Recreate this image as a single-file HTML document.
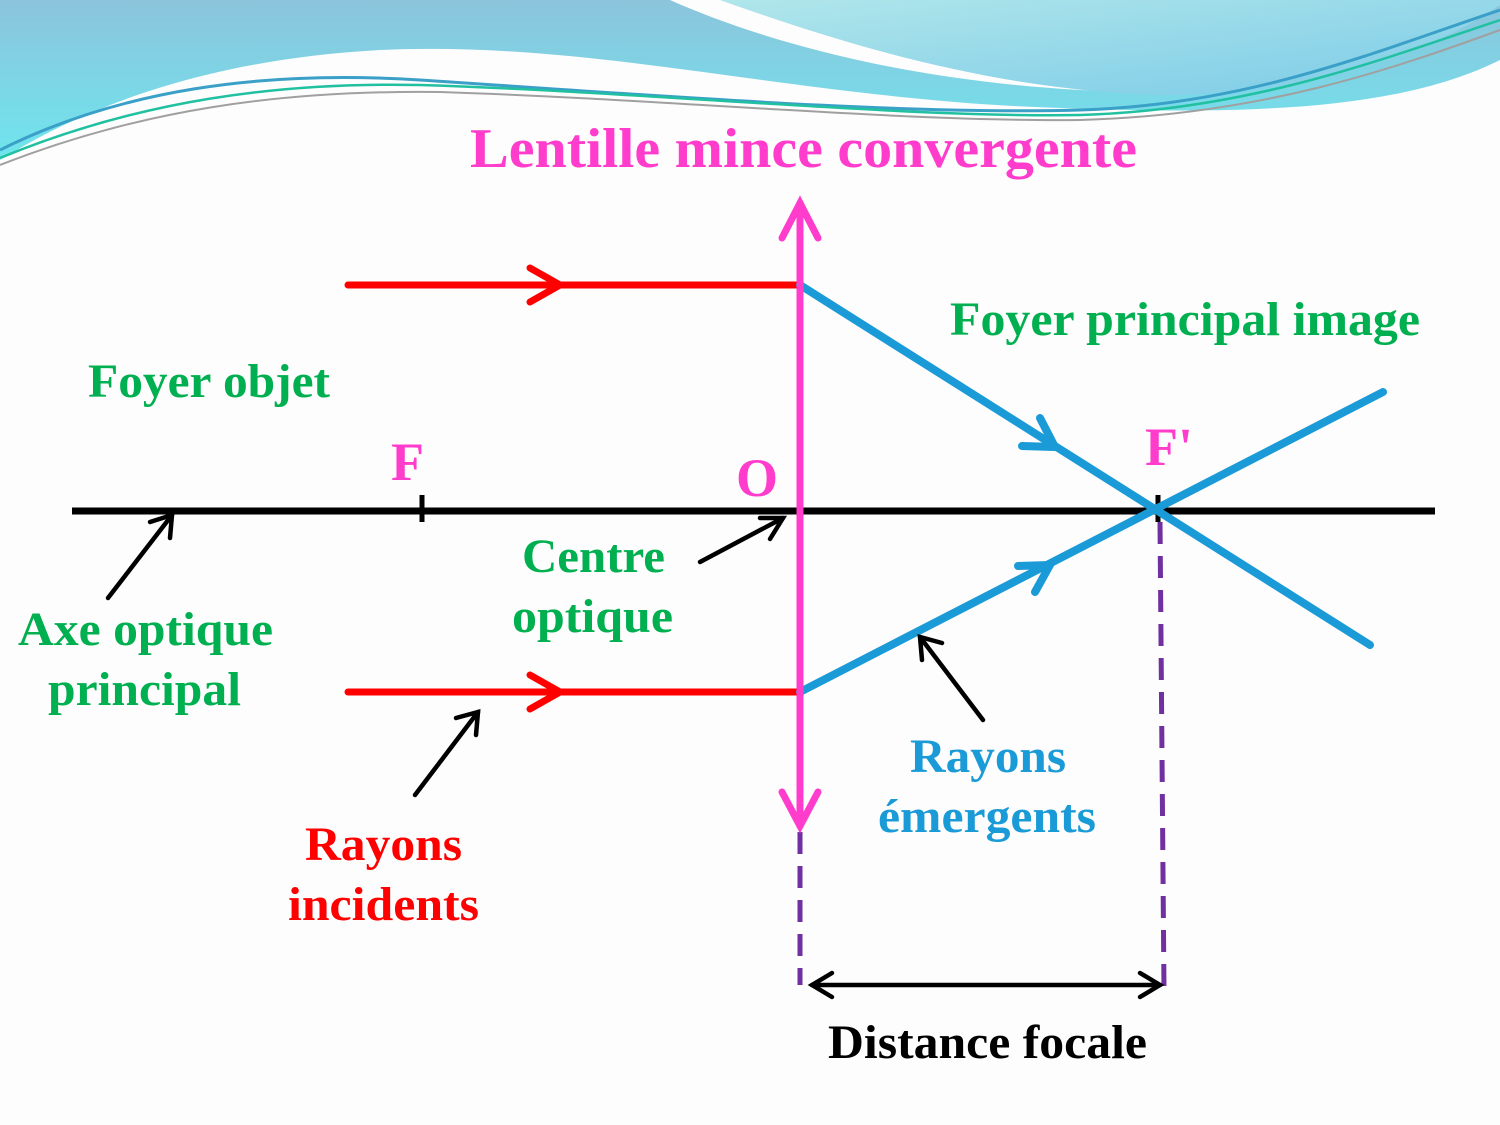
<!DOCTYPE html>
<html><head><meta charset="utf-8"><style>html,body{margin:0;padding:0;background:#fff}svg{display:block}text{font-family:"Liberation Serif",serif;font-weight:bold}</style></head>
<body>
<svg width="1500" height="1125" viewBox="0 0 1500 1125" xmlns="http://www.w3.org/2000/svg">
<defs>
<linearGradient id="g1" x1="0" y1="0" x2="0" y2="1"><stop offset="0" stop-color="#8cc4dc"/><stop offset="1" stop-color="#6ee6ee"/></linearGradient>
<linearGradient id="g2" x1="0" y1="0" x2="1" y2="1"><stop offset="0" stop-color="#b0e6ea"/><stop offset="1" stop-color="#7ccbe8"/></linearGradient>
</defs>
<rect width="1500" height="1125" fill="#fdfdfd"/>
<path d="M0,0 H670 C760,40 900,80 1080,90 C1200,95 1300,80 1500,5 V60 C1400,110 1250,115 1060,108 C800,100 600,40 380,50 C200,60 80,110 0,160 Z" fill="url(#g1)"/>
<path d="M720,0 H1500 V5 C1420,60 1300,95 1160,95 C1000,90 860,50 720,0 Z" fill="url(#g2)"/>
<path d="M0,150 C120,90 260,70 420,80 C650,95 900,115 1080,110 C1250,105 1380,50 1500,10" fill="none" stroke="#3aa0c8" stroke-width="3"/>
<path d="M0,158 C140,100 280,82 420,85 C650,92 900,118 1080,115 C1250,110 1380,60 1500,20" fill="none" stroke="#20c0a0" stroke-width="2.5"/>
<path d="M0,165 C140,110 280,90 440,92 C680,100 900,122 1080,120 C1260,115 1390,70 1500,30" fill="none" stroke="#a0a0a0" stroke-width="2"/>
<text x="470" y="167" font-size="56" fill="#ff3ccc" textLength="667" lengthAdjust="spacingAndGlyphs">Lentille mince convergente</text>

<line x1="72" y1="511" x2="1435" y2="511" stroke="#000" stroke-width="7"/>
<line x1="422" y1="495" x2="422" y2="522" stroke="#000" stroke-width="5"/>
<line x1="1158" y1="495" x2="1158" y2="522" stroke="#000" stroke-width="5"/>
<line x1="800" y1="832" x2="800" y2="985" stroke="#7030a0" stroke-width="5" stroke-dasharray="22,12"/>
<line x1="1160" y1="522" x2="1164" y2="990" stroke="#7030a0" stroke-width="5" stroke-dasharray="22,12"/>
<g stroke="#ff0000" stroke-width="7" fill="none" stroke-linecap="round">
<line x1="348" y1="285" x2="800" y2="285"/><polyline points="530,268 560,285 530,302"/>
<line x1="348" y1="692" x2="800" y2="692"/><polyline points="530,675 560,692 530,709"/>
</g>
<g stroke="#1a9bd7" stroke-width="8" fill="none" stroke-linecap="round">
<line x1="800" y1="285" x2="1370" y2="645"/>
<line x1="800" y1="692" x2="1383" y2="392"/>
<polyline points="1040,418 1055,447 1022,446"/>
<polyline points="1018,566 1050,565 1035,592"/>
</g>
<g stroke="#ff3ccc" stroke-width="7" fill="none" stroke-linecap="round">
<line x1="800" y1="203" x2="800" y2="826"/>
<polyline points="782,238 800,203 818,238"/>
<polyline points="782,792 800,826 818,792"/>
</g>
<g stroke="#000" stroke-width="4.5" fill="none" stroke-linecap="round">
<line x1="108" y1="598" x2="172" y2="515"/><polyline points="150,522 172,515 170,538"/>
<line x1="700" y1="562" x2="783" y2="518"/><polyline points="760,518 783,518 770,539"/>
<line x1="415" y1="795" x2="478" y2="712"/><polyline points="456,718 478,712 476,735"/>
<line x1="983" y1="720" x2="920" y2="637"/><polyline points="922,660 920,637 942,643"/>
<line x1="812" y1="985" x2="1160" y2="985"/><polyline points="832,973 812,985 832,997"/><polyline points="1140,973 1160,985 1140,997"/>
</g>
<g font-size="48" lengthAdjust="spacingAndGlyphs">
<text x="88" y="397" fill="#00b050" textLength="242" lengthAdjust="spacingAndGlyphs">Foyer objet</text>
<text x="950" y="335" fill="#00b050" textLength="470" lengthAdjust="spacingAndGlyphs">Foyer principal image</text>
<text x="522" y="572" fill="#00b050" textLength="143" lengthAdjust="spacingAndGlyphs">Centre</text>
<text x="512" y="632" fill="#00b050" textLength="161" lengthAdjust="spacingAndGlyphs">optique</text>
<text x="18" y="645" fill="#00b050" textLength="255" lengthAdjust="spacingAndGlyphs">Axe optique</text>
<text x="48" y="705" fill="#00b050" textLength="193" lengthAdjust="spacingAndGlyphs">principal</text>
<text x="305" y="860" fill="#ff0000" textLength="157" lengthAdjust="spacingAndGlyphs">Rayons</text>
<text x="288" y="920" fill="#ff0000" textLength="191" lengthAdjust="spacingAndGlyphs">incidents</text>
<text x="910" y="772" fill="#1a9bd7" textLength="156" lengthAdjust="spacingAndGlyphs">Rayons</text>
<text x="878" y="832" fill="#1a9bd7" textLength="218" lengthAdjust="spacingAndGlyphs">émergents</text>
<text x="828" y="1058" fill="#000" textLength="319" lengthAdjust="spacingAndGlyphs">Distance focale</text>
</g>
<g font-size="54" fill="#ff3ccc">
<text x="391" y="480">F</text>
<text x="736" y="496">O</text>
<text x="1145" y="465">F'</text>
</g>
</svg>
</body></html>
